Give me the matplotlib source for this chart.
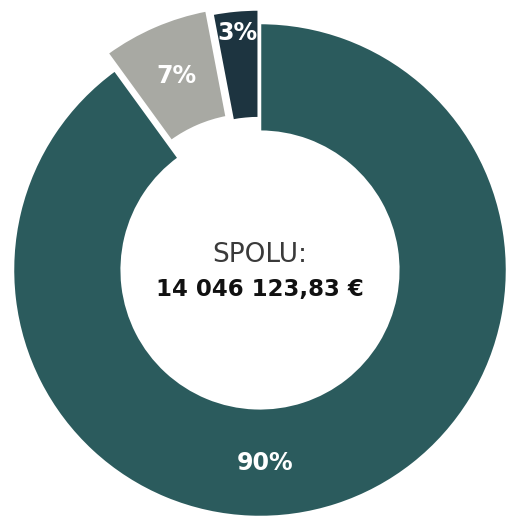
import numpy as np
import matplotlib
matplotlib.use('Agg')
import matplotlib.pyplot as plt

labels = ['90%', '7%', '3%']
shares = [90, 7, 3]
total_label = 'SPOLU:'
total_value = '14 046 123,83 €'

colors = ['#2b5b5d', '#a8a9a3', '#1d3440']
explode = [0, 0.075, 0.055]

fig = plt.figure(figsize=(5.07, 5.2), dpi=100)
ax = fig.add_axes([0, 0, 1, 1])

wedges, _ = ax.pie(shares, colors=colors, explode=explode, startangle=90,
                   counterclock=False, radius=1.0,
                   wedgeprops=dict(width=0.44, edgecolor='white', linewidth=1.8))

# percent labels: radius from wedge centre, angle override for the big slice
label_r = [0.78, 0.78, 0.91]
label_ang = [-88.5, None, None]
for w, lab, r, a in zip(wedges, labels, label_r, label_ang):
    if a is None:
        a = (w.theta1 + w.theta2) / 2
    cx, cy = w.center
    t = np.deg2rad(a)
    ax.text(cx + r * np.cos(t), cy + r * np.sin(t), lab, color='white',
            fontsize=17, fontweight='bold', ha='center', va='center')

ax.text(0, 0.06, total_label, ha='center', va='center', fontsize=19,
        color='#3a3a3a')
ax.text(0, -0.078, total_value, ha='center', va='center', fontsize=16.5,
        fontweight='bold', color='#111111')

# pixel scale: 247 px per unit radius, centre at (260, 270) from top-left
s = 247
ax.set_aspect('auto')
ax.set_xlim(-260 / s, (507 - 260) / s)
ax.set_ylim(-(520 - 270) / s, 270 / s)
ax.axis('off')

fig.savefig('out.png', dpi=100)
